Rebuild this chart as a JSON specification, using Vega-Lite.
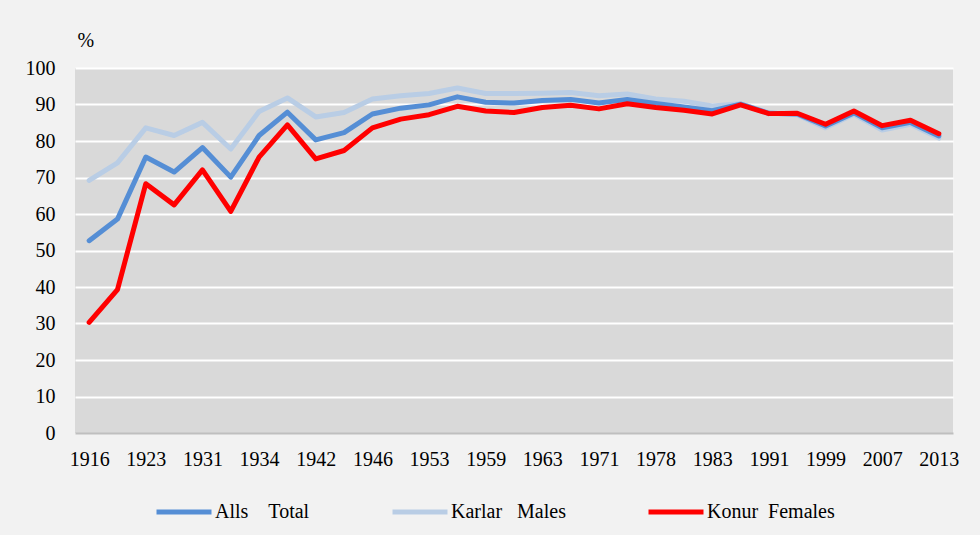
{
  "$schema": "https://vega.github.io/schema/vega-lite/v6.json",
  "width": 878,
  "height": 365,
  "autosize": {"type": "none"},
  "padding": {"left": 75, "top": 68, "right": 27, "bottom": 102},
  "background": "#f2f2f2",
  "config": {
    "view": {"fill": "#d9d9d9", "stroke": null},
    "font": "Liberation Serif"
  },
  "data": {
    "values": [
      {"e": "1916", "t": 52.7, "m": 69.2, "f": 30.3},
      {"e": "1919", "t": 58.6, "m": 74.0, "f": 39.3},
      {"e": "1923", "t": 75.6, "m": 83.6, "f": 68.3},
      {"e": "1927", "t": 71.5, "m": 81.5, "f": 62.5},
      {"e": "1931", "t": 78.2, "m": 85.1, "f": 72.1},
      {"e": "1933", "t": 70.1, "m": 77.8, "f": 60.7},
      {"e": "1934", "t": 81.5, "m": 88.1, "f": 75.6},
      {"e": "1937", "t": 87.9, "m": 91.8, "f": 84.4},
      {"e": "1942a", "t": 80.3, "m": 86.6, "f": 75.1},
      {"e": "1942b", "t": 82.3, "m": 87.8, "f": 77.4},
      {"e": "1946", "t": 87.4, "m": 91.5, "f": 83.6},
      {"e": "1949", "t": 89.0, "m": 92.4, "f": 86.0},
      {"e": "1953", "t": 89.9, "m": 93.0, "f": 87.2},
      {"e": "1956", "t": 92.1, "m": 94.5, "f": 89.5},
      {"e": "1959a", "t": 90.6, "m": 93.0, "f": 88.2},
      {"e": "1959b", "t": 90.4, "m": 93.0, "f": 87.8},
      {"e": "1963", "t": 91.1, "m": 93.1, "f": 89.2},
      {"e": "1967", "t": 91.4, "m": 93.3, "f": 89.8},
      {"e": "1971", "t": 90.4, "m": 92.4, "f": 88.8},
      {"e": "1974", "t": 91.4, "m": 92.9, "f": 90.2},
      {"e": "1978", "t": 90.3, "m": 91.5, "f": 89.2},
      {"e": "1979", "t": 89.3, "m": 90.9, "f": 88.4},
      {"e": "1983", "t": 88.3, "m": 89.6, "f": 87.4},
      {"e": "1987", "t": 90.1, "m": 90.2, "f": 89.9},
      {"e": "1991", "t": 87.6, "m": 87.7, "f": 87.5},
      {"e": "1995", "t": 87.4, "m": 87.2, "f": 87.6},
      {"e": "1999", "t": 84.1, "m": 83.6, "f": 84.6},
      {"e": "2003", "t": 87.7, "m": 87.3, "f": 88.2},
      {"e": "2007", "t": 83.6, "m": 83.0, "f": 84.2},
      {"e": "2009", "t": 85.1, "m": 84.6, "f": 85.7},
      {"e": "2013", "t": 81.4, "m": 80.8, "f": 82.0}
    ]
  },
  "transform": [{"fold": ["t", "m", "f"], "as": ["s", "v"]}],
  "encoding": {
    "x": {
      "field": "e",
      "type": "ordinal",
      "scale": {"type": "point", "padding": 0.5},
      "axis": {
        "title": null,
        "values": ["1916", "1923", "1931", "1934", "1942a", "1946", "1953", "1959a", "1963", "1971", "1978", "1983", "1991", "1999", "2007", "2013"],
        "labelExpr": "substring(datum.value, 0, 4)",
        "labelAngle": 0,
        "labelFont": "Liberation Serif",
        "labelFontSize": 20,
        "labelColor": "#000000",
        "labelPadding": 16,
        "ticks": false,
        "domain": false,
        "grid": false
      }
    },
    "y": {
      "field": "v",
      "type": "quantitative",
      "scale": {"domain": [0, 100], "nice": false},
      "axis": {
        "title": "%",
        "titleAngle": 0,
        "titleAlign": "left",
        "titleBaseline": "middle",
        "titleX": 2,
        "titleY": -28,
        "titleFont": "Liberation Serif",
        "titleFontWeight": "normal",
        "titleFontSize": 20,
        "titleColor": "#000000",
        "values": [0, 10, 20, 30, 40, 50, 60, 70, 80, 90, 100],
        "labelFont": "Liberation Serif",
        "labelFontSize": 20,
        "labelColor": "#000000",
        "labelPadding": 20,
        "ticks": false,
        "domain": false,
        "gridColor": {"condition": {"test": "datum.value === 0", "value": "#bfbfbf"}, "value": "#ffffff"},
        "gridWidth": 2,
        "gridOpacity": 1
      }
    },
    "color": {
      "field": "s",
      "type": "nominal",
      "scale": {"domain": ["t", "m", "f"], "range": ["#558ed5", "#b9cde5", "#ff0000"]},
      "legend": {
        "orient": "none",
        "legendX": 79,
        "legendY": 414,
        "direction": "horizontal",
        "title": null,
        "symbolType": "stroke",
        "symbolSize": 3025,
        "symbolStrokeWidth": 5,
        "labelFont": "Liberation Serif",
        "labelFontSize": 20,
        "labelColor": "#000000",
        "labelOffset": 1,
        "columnPadding": 72,
        "labelExpr": "datum.value == 't' ? 'Alls\u00a0\u00a0\u00a0\u00a0Total' : datum.value == 'm' ? 'Karlar\u00a0\u00a0\u00a0Males' : 'Konur\u00a0\u00a0Females'"
      }
    }
  },
  "layer": [
    {"transform": [{"filter": "datum.s == 'm'"}], "mark": {"type": "line", "strokeWidth": 5, "strokeCap": "round", "strokeJoin": "round"}},
    {"transform": [{"filter": "datum.s == 't'"}], "mark": {"type": "line", "strokeWidth": 5, "strokeCap": "round", "strokeJoin": "round"}},
    {"transform": [{"filter": "datum.s == 'f'"}], "mark": {"type": "line", "strokeWidth": 5, "strokeCap": "round", "strokeJoin": "round"}}
  ]
}
